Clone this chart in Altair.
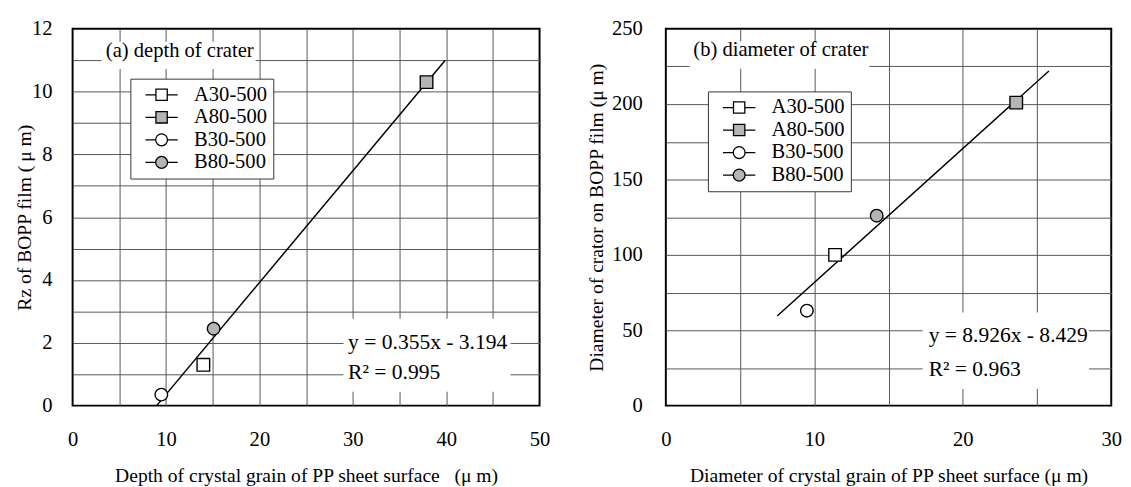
import altair as alt
import pandas as pd

FONT = "Liberation Serif"

# ---- legend / series definitions ----
series = ["A30-500", "A80-500", "B30-500", "B80-500"]
fills = ["white", "#b5b5b5", "white", "#b5b5b5"]
outline = ["black", "black", "black", "black"]
marker_shapes = ["square", "square", "circle", "circle"]
_sq = "M-0.2,0H1.75M3.85,0H5.8M1.75,-1.05H3.85V1.05H1.75Z"
_ci = "M-0.2,0H1.7M3.9,0H5.8M3.9,0A1.1,1.1 0 1,0 1.7,0A1.1,1.1 0 1,0 3.9,0Z"
legend_shapes = [_sq, _sq, _ci, _ci]

# ---- panel (a): depth of crater ----
a_x = [14.0, 37.9, 9.5, 15.1]
a_y = [1.3, 10.3, 0.35, 2.45]
a_fit_x = [9.0, 39.9]
a_fit_y = [0.0, 11.0]

# ---- panel (b): diameter of crater ----
b_x = [11.4, 23.6, 9.5, 14.2]
b_y = [100, 201, 63, 126]
b_fit_x = [7.5, 25.8]
b_fit_y = [59.5, 222.0]


def panel(px, py, fx, fy, xdom, ydom, xstep, ystep, xlab, ylab, xtitle, ytitle,
          tag, tag_box, tag_pos, eq, eq_box, eq_pos, leg_xy, width, height,
          ytitle_pad, ylabel_pad):
    pts = pd.DataFrame({"series": series, "x": px, "y": py})
    fit = pd.DataFrame({"x": fx, "y": fy})

    xs = alt.Scale(domain=xdom, nice=False, zero=False)
    ys = alt.Scale(domain=ydom, nice=False, zero=False)

    def gop(dom):
        return {"condition": {"test": f"datum.value <= {dom[0]} || datum.value >= {dom[1]}",
                              "value": 0}, "value": 1}

    xvals = [xdom[0] + i * xstep for i in range(int((xdom[1] - xdom[0]) / xstep) + 1)]
    yvals = [ydom[0] + i * ystep for i in range(int((ydom[1] - ydom[0]) / ystep) + 1)]

    xaxis = alt.Axis(values=xvals, labelExpr=f"datum.value % {xlab} === 0 ? datum.label : ''",
                     grid=True, gridColor="#555555", gridWidth=1, gridOpacity=gop(xdom),
                     ticks=False, domain=False, labelFont=FONT, labelFontSize=21,
                     labelPadding=24, labelColor="black", labelFlush=False,
                     labelOverlap=False, labelBound=False,
                     title=xtitle, titleFont=FONT, titleFontSize=20,
                     titleFontWeight="normal", titleColor="black", titlePadding=16)
    yaxis = alt.Axis(values=yvals, labelExpr=f"datum.value % {ylab} === 0 ? datum.label : ''",
                     grid=True, gridColor="#555555", gridWidth=1, gridOpacity=gop(ydom),
                     ticks=False, domain=False, labelFont=FONT, labelFontSize=21,
                     labelPadding=ylabel_pad, labelColor="black", labelFlush=False,
                     labelOverlap=False, labelBound=False,
                     title=ytitle, titleFont=FONT, titleFontSize=20,
                     titleFontWeight="normal", titleColor="black", titlePadding=ytitle_pad)

    def X(f="x"):
        return alt.X(f"{f}:Q", scale=xs, axis=xaxis)

    def Y(f="y"):
        return alt.Y(f"{f}:Q", scale=ys, axis=yaxis)

    boxes = pd.DataFrame({"x": [tag_box[0], eq_box[0]], "x2": [tag_box[1], eq_box[1]],
                          "y": [tag_box[2], eq_box[2]], "y2": [tag_box[3], eq_box[3]]})
    box_layer = alt.Chart(boxes).mark_rect(fill="white").encode(
        x=X("x"), x2="x2:Q", y=Y("y"), y2="y2:Q")

    tags = pd.DataFrame({"x": [tag_pos[0]], "y": [tag_pos[1]], "t": [tag]})
    tag_layer = alt.Chart(tags).mark_text(
        align="left", baseline="middle", font=FONT, fontSize=21, color="black"
    ).encode(x=X(), y=Y(), text="t:N")

    eqs = pd.DataFrame({"x": [eq_pos[0], eq_pos[0]], "y": [eq_pos[1], eq_pos[2]], "t": eq})
    eq_layer = alt.Chart(eqs).mark_text(
        align="left", baseline="middle", font=FONT, fontSize=22, color="black"
    ).encode(x=X(), y=Y(), text="t:N")

    line_layer = alt.Chart(fit).mark_line(color="black", strokeWidth=1.5).encode(x=X(), y=Y())

    leg = alt.Legend(orient="none", legendX=leg_xy[0], legendY=leg_xy[1], title=None,
                     fillColor="white", strokeColor="#333333", padding=6,
                     labelFont=FONT, labelFontSize=21, labelColor="black", labelOffset=38,
                     rowPadding=1, symbolSize=121,
                     symbolStrokeWidth=1.3, symbolOpacity=1, labelLimit=300, cornerRadius=0)
    legend_layer = alt.Chart(pts).transform_filter("false").mark_point(
        filled=True, strokeWidth=1.3, size=121
    ).encode(
        x=X(), y=Y(),
        shape=alt.Shape("series:N", scale=alt.Scale(domain=series, range=legend_shapes), legend=leg),
        fill=alt.Fill("series:N", scale=alt.Scale(domain=series, range=fills), legend=leg),
        stroke=alt.Stroke("series:N", scale=alt.Scale(domain=series, range=outline), legend=leg),
    )

    point_layer = alt.Chart(pts).mark_point(
        filled=True, stroke="black", strokeWidth=1.4, size=165, opacity=1
    ).encode(
        x=X(), y=Y(),
        shape=alt.Shape("series:N", scale=alt.Scale(domain=series, range=marker_shapes), legend=None),
        fill=alt.Fill("series:N", scale=alt.Scale(domain=series, range=fills), legend=None),
    )

    return alt.layer(box_layer, tag_layer, eq_layer, line_layer, legend_layer, point_layer).resolve_scale(
        shape="independent", fill="independent", stroke="independent"
    ).properties(width=width, height=height)


left = panel(a_x, a_y, a_fit_x, a_fit_y, [0, 50], [0, 12], 5, 1, 10, 2,
             "Depth of crystal grain of PP sheet surface \u2002(\u03bc m)",
             "Rz of BOPP film (\u2009\u03bc m)",
             "(a) depth of crater", [3.1, 19.6, 10.72, 11.59], [3.56, 11.3],
             ["y = 0.355x - 3.194", "R\u00b2 = 0.995"], [29.0, 46.9, 0.44, 2.77],
             [29.5, 2.02, 1.06], [59, 51], 477, 385, -3, 21)

right = panel(b_x, b_y, b_fit_x, b_fit_y, [0, 30], [0, 250], 5, 25, 10, 50,
              "Diameter of crystal grain of PP sheet surface (\u03bc m)",
              "Diameter of crator on BOPP film (\u03bc m)",
              "(b) diameter of crater", [1.6, 13.7, 223.4, 241.6], [1.85, 236.0],
              ["y = 8.926x - 8.429", "R\u00b2 = 0.963"], [17.3, 28.5, 11, 61.7],
              [17.7, 46.8, 24], [43, 64], 455, 385, 5, 24)

chart = alt.hconcat(left, right, spacing=35).resolve_scale(
    x="independent", y="independent", shape="independent", fill="independent",
    stroke="independent"
).resolve_legend(shape="independent", fill="independent", stroke="independent").configure_view(
    stroke="black", strokeWidth=2
).properties(padding={"left": 6, "top": 4, "right": 0, "bottom": 0}, background="white")

chart.save("out.html", embed_options={"renderer": "svg", "actions": False})
